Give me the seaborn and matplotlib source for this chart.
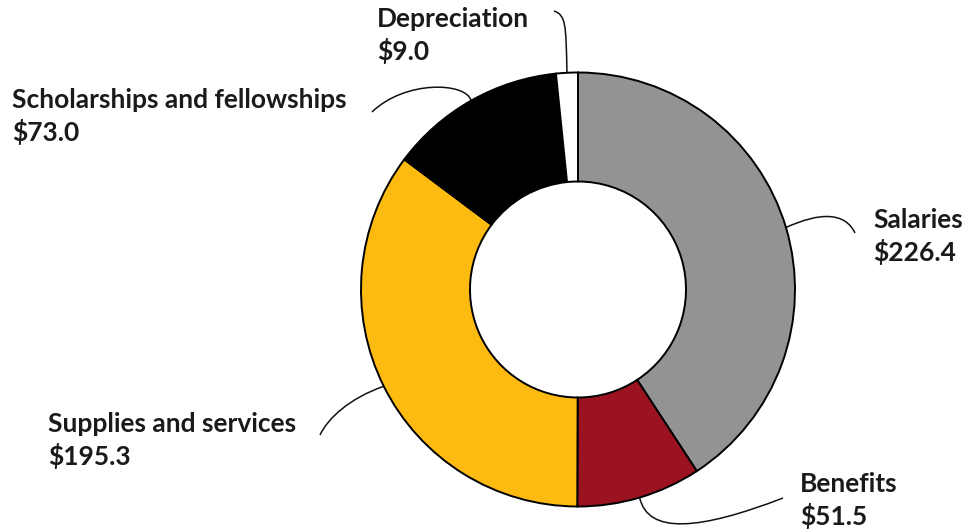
import numpy as np
import matplotlib
matplotlib.use("Agg")
import matplotlib.pyplot as plt
from matplotlib.path import Path
from matplotlib.patches import PathPatch
import seaborn as sns

# Expense categories (millions of dollars)
categories = ["Salaries", "Benefits", "Supplies and services",
              "Scholarships and fellowships", "Depreciation"]
values = [226.4, 51.5, 195.3, 73.0, 9.0]
value_labels = ["$226.4", "$51.5", "$195.3", "$73.0", "$9.0"]
colors = ["#939393", "#9b1220", "#fdbb12", "#000000", "#ffffff"]

sns.set_theme(style="white")
plt.rcParams["font.family"] = ["Lato", "DejaVu Sans"]

W, H = 971, 531
fig = plt.figure(figsize=(W / 100, H / 100), dpi=100)
ax = fig.add_axes([0, 0, 1, 1])


def flip(x, y):
    """Screen-style (y down) coordinates to axes data coordinates."""
    return x, H - y


cx, cy = flip(578, 289.5)
R = 217
ring = 109

wedges, _ = ax.pie(values, colors=colors, startangle=90, counterclock=False,
                   center=(cx, cy), radius=R,
                   wedgeprops=dict(width=ring, edgecolor="black", linewidth=1.4))
ax.set_xlim(0, W)
ax.set_ylim(0, H)
ax.set_aspect("equal")
ax.axis("off")

# label text anchors (left x, first baseline) and leader curve control points
label_pos = {
    "Salaries": (873, 228),
    "Benefits": (800, 492),
    "Supplies and services": (48, 432),
    "Scholarships and fellowships": (12, 108),
    "Depreciation": (377, 27),
}
leader_ctrl = {
    "Salaries": [(820, 212), (845, 212), (855, 233)],
    "Benefits": [(648, 535), (700, 530), (783, 498)],
    "Supplies and services": [(350, 398), (328, 418), (320, 435)],
    "Scholarships and fellowships": [(466, 82), (405, 80), (372, 112)],
    "Depreciation": [(566, 25), (566, 15), (554, 11)],
}

for w, name, vlab in zip(wedges, categories, value_labels):
    mid = np.deg2rad((w.theta1 + w.theta2) / 2)
    start = (cx + R * np.cos(mid), cy + R * np.sin(mid))
    pts = [start] + [flip(*p) for p in leader_ctrl[name]]
    path = Path(pts, [Path.MOVETO, Path.CURVE4, Path.CURVE4, Path.CURVE4])
    ax.add_patch(PathPatch(path, facecolor="none", edgecolor="#111111",
                           linewidth=1.1, zorder=0))
    tx, ty = label_pos[name]
    ax.text(*flip(tx, ty), name, fontsize=19, fontweight="bold",
            color="#1a1a1a", va="baseline", ha="left")
    ax.text(*flip(tx, ty + 33), vlab, fontsize=19, fontweight="bold",
            color="#1a1a1a", va="baseline", ha="left")

fig.savefig("out.png", dpi=100, facecolor="white")
